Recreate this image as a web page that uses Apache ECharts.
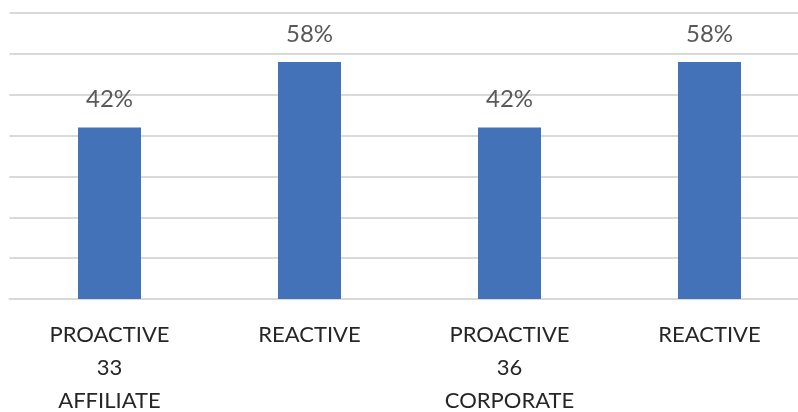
<!DOCTYPE html>
<html>
<head>
<meta charset="utf-8">
<script src="https://cdn.jsdelivr.net/npm/echarts@6/dist/echarts.min.js"></script>
<style>
  html, body { margin: 0; padding: 0; background: #ffffff; }
  #chart { width: 798px; height: 412px; }
</style>
</head>
<body>
<div id="chart"></div>
<script>
// Response type share per group
const categories = ['PROACTIVE\n33\nAFFILIATE', 'REACTIVE', 'PROACTIVE\n36\nCORPORATE', 'REACTIVE'];
const shares = [42, 58, 42, 58];
const axisMax = 70;
const axisStep = 10;

const chart = echarts.init(document.getElementById('chart'), null, { renderer: 'canvas' });

chart.setOption({
  animation: false,
  backgroundColor: '#ffffff',
  textStyle: { fontFamily: 'Lato, "Open Sans", sans-serif' },
  grid: {
    left: 9.5, top: 13, right: -11.5, bottom: 113,
    containLabel: false,
    outerBoundsMode: 'none'
  },
  xAxis: {
    type: 'category',
    data: categories,
    axisLine: { show: true, lineStyle: { color: '#d9d9d9', width: 2 } },
    axisTick: { show: false },
    axisLabel: {
      color: '#262626',
      fontSize: 22,
      lineHeight: 33,
      margin: 19,
      interval: 0,
      fontFamily: 'Lato, sans-serif'
    }
  },
  yAxis: {
    type: 'value',
    min: 0,
    max: axisMax,
    interval: axisStep,
    axisLabel: { show: false },
    axisLine: { show: false },
    axisTick: { show: false },
    splitLine: { show: true, lineStyle: { color: '#d9d9d9', width: 2 } }
  },
  series: [{
    type: 'bar',
    data: shares,
    barWidth: 63,
    itemStyle: { color: '#4472b8' },
    label: {
      show: true,
      position: 'top',
      distance: 16,
      color: '#595959',
      fontSize: 24,
      fontFamily: 'Lato, sans-serif',
      formatter: p => p.value + '%'
    }
  }]
});
</script>
</body>
</html>
